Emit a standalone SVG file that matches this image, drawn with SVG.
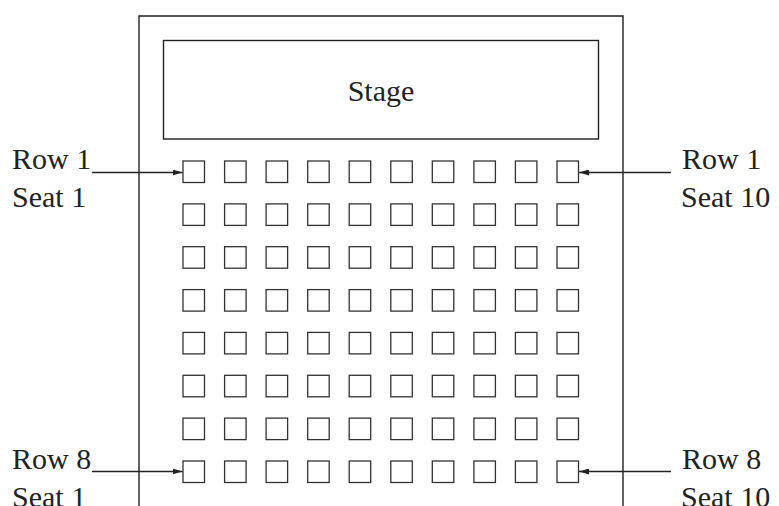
<svg xmlns="http://www.w3.org/2000/svg" width="779" height="506" viewBox="0 0 779 506">
<style>
.ln{fill:none;stroke:#222;stroke-width:1.4}
.seat{fill:#fff;stroke:#333;stroke-width:1.3}
text{font-family:"Liberation Serif","Times New Roman",serif;font-size:30px;fill:#222}
</style>
<defs>
<marker id="ah" markerWidth="10" markerHeight="6" refX="10" refY="3" orient="auto" markerUnits="userSpaceOnUse">
<path d="M0,0 L10,3 L0,6 Z" fill="#222"/>
</marker>
<g id="seatrow">
<rect class="seat" x="183" y="0" width="21.5" height="21.5"/>
<rect class="seat" x="224.6" y="0" width="21.5" height="21.5"/>
<rect class="seat" x="266.1" y="0" width="21.5" height="21.5"/>
<rect class="seat" x="307.7" y="0" width="21.5" height="21.5"/>
<rect class="seat" x="349.2" y="0" width="21.5" height="21.5"/>
<rect class="seat" x="390.8" y="0" width="21.5" height="21.5"/>
<rect class="seat" x="432.3" y="0" width="21.5" height="21.5"/>
<rect class="seat" x="473.9" y="0" width="21.5" height="21.5"/>
<rect class="seat" x="515.4" y="0" width="21.5" height="21.5"/>
<rect class="seat" x="557" y="0" width="21.5" height="21.5"/>
</g>
</defs>
<g id="hall">
<path class="ln" d="M139,506 V16 H623 V506"/>
</g>
<g id="stage">
<rect class="ln" x="163.5" y="40.5" width="435" height="98.5"/>
<text x="381" y="101" text-anchor="middle">Stage</text>
</g>
<g id="seats">
<use href="#seatrow" y="161"/>
<use href="#seatrow" y="203.9"/>
<use href="#seatrow" y="246.7"/>
<use href="#seatrow" y="289.6"/>
<use href="#seatrow" y="332.4"/>
<use href="#seatrow" y="375.3"/>
<use href="#seatrow" y="418.1"/>
<use href="#seatrow" y="461"/>
</g>
<g id="labels">
<text x="12" y="169">Row 1</text>
<text x="12" y="207">Seat 1</text>
<text x="682" y="169">Row 1</text>
<text x="681" y="207">Seat 10</text>
<text x="12" y="469">Row 8</text>
<text x="12" y="507">Seat 1</text>
<text x="682" y="469">Row 8</text>
<text x="681" y="507">Seat 10</text>
</g>
<g id="connectors">
<line class="ln" x1="92" y1="172.5" x2="182.5" y2="172.5" marker-end="url(#ah)"/>
<line class="ln" x1="671" y1="172.5" x2="579" y2="172.5" marker-end="url(#ah)"/>
<line class="ln" x1="92" y1="471.5" x2="182.5" y2="471.5" marker-end="url(#ah)"/>
<line class="ln" x1="671" y1="471.5" x2="579" y2="471.5" marker-end="url(#ah)"/>
</g>
</svg>
